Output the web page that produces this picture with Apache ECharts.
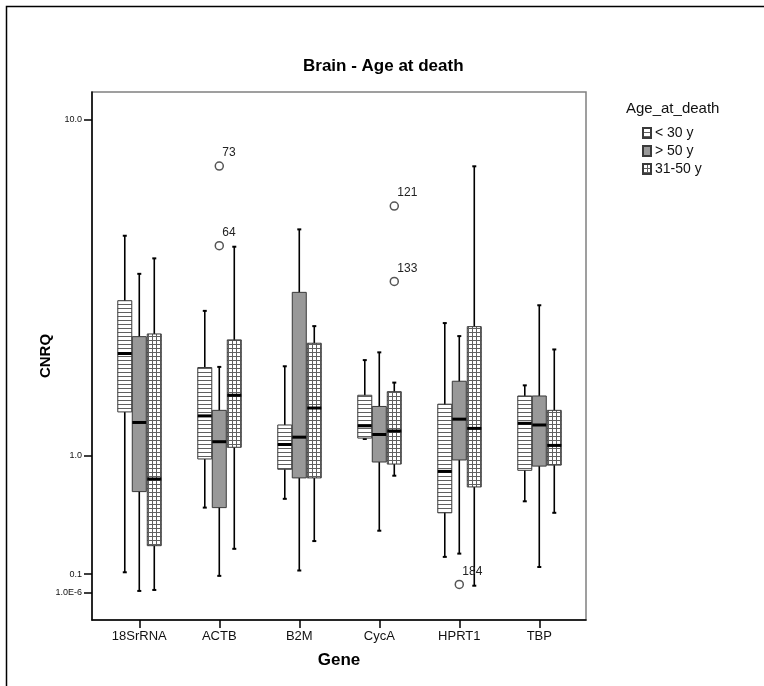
<!DOCTYPE html>
<html>
<head>
<meta charset="utf-8">
<title>Brain - Age at death</title>
<script src="https://cdn.jsdelivr.net/npm/echarts@6/dist/echarts.min.js"></script>
<style>
  html, body { margin: 0; padding: 0; background: #fff; }
  #chart { width: 764px; height: 686px; }
</style>
</head>
<body>
<div id="chart"></div>
<script>
// Genes on the category axis and the three age groups
const genes = ['18SrRNA', 'ACTB', 'B2M', 'CycA', 'HPRT1', 'TBP'];
const groups = ['< 30 y', '> 50 y', '31-50 y'];

// Box statistics per gene: [lower whisker, Q1, median, Q3, upper whisker]
const under30 = [
  [0.11, 1.50, 2.36, 3.39, 5.10],
  [0.54, 0.97, 1.45, 2.13, 3.17],
  [0.61, 0.87, 1.12, 1.34, 2.15],
  [1.18, 1.19, 1.33, 1.72, 2.25],
  [0.20, 0.50, 0.85, 1.60, 2.92],
  [0.59, 0.86, 1.36, 1.71, 1.86]
];
const over50 = [
  [0.01, 0.67, 1.37, 2.66, 4.03],
  [0.09, 0.54, 1.15, 1.52, 2.14],
  [0.12, 0.79, 1.20, 3.58, 5.30],
  [0.37, 0.94, 1.23, 1.57, 2.38],
  [0.22, 0.96, 1.41, 1.92, 2.67],
  [0.14, 0.90, 1.34, 1.71, 3.29]
];
const from31to50 = [
  [0.015, 0.27, 0.78, 2.71, 4.44],
  [0.25, 1.09, 1.72, 2.60, 4.77],
  [0.30, 0.79, 1.55, 2.54, 2.86],
  [0.81, 0.92, 1.27, 1.77, 1.90],
  [0.037, 0.71, 1.30, 2.85, 7.67],
  [0.50, 0.91, 1.11, 1.52, 2.43]
];

// Outlying cases
const outlierGene  = [1, 1, 3, 3, 4];
const outlierGroup = [1, 1, 2, 2, 1];
const outlierValue = [7.68, 4.80, 6.09, 3.84, 0.044];
const outlierCase  = ['73', '64', '121', '133', '184'];

// Y axis ticks
const yTickValues = [10, 1, 0.1, 0.000001];
const yTickLabels = ['10.0', '1.0', '0.1', '1.0E-6'];

// ---- drawing ----
const FONT = '"Liberation Sans", Arial, Helvetica, sans-serif';
const tf = v => Math.log10(1 + v);          // log(1 + x) scale
const groupOffsetPx = [-14.5, 0, 15];
const BOX_W = 14;

function makePattern(kind) {
  const c = document.createElement('canvas');
  const ctx = c.getContext('2d');
  c.width = 4; c.height = 4;
  ctx.fillStyle = '#ffffff'; ctx.fillRect(0, 0, 4, 4);
  ctx.fillStyle = '#606060';
  ctx.fillRect(0, 0, 4, 1);
  if (kind === 'grid') ctx.fillRect(0, 0, 1, 4);
  return { image: c, repeat: 'repeat' };
}
const fills = [makePattern('stripes'), '#999999', makePattern('grid')];

function boxData(stats) {
  return stats.map((s, i) => [i, tf(s[0]), tf(s[1]), tf(s[2]), tf(s[3]), tf(s[4])]);
}

function boxRenderer(g) {
  return function (params, api) {
    const ci = api.value(0);
    const x = api.coord([ci, 0])[0] + groupOffsetPx[g];
    const y = k => api.coord([ci, api.value(k)])[1];
    const yLo = y(1), yQ1 = y(2), yMed = y(3), yQ3 = y(4), yHi = y(5);
    const half = BOX_W / 2;
    return {
      type: 'group',
      children: [
        { type: 'line', shape: { x1: x, y1: yLo, x2: x, y2: yHi },
          style: { stroke: '#000', lineWidth: 1.6 } },
        { type: 'line', shape: { x1: x - 2, y1: yLo, x2: x + 2, y2: yLo },
          style: { stroke: '#000', lineWidth: 2 } },
        { type: 'line', shape: { x1: x - 2, y1: yHi, x2: x + 2, y2: yHi },
          style: { stroke: '#000', lineWidth: 2 } },
        { type: 'rect', shape: { x: x - half, y: yQ3, width: BOX_W, height: yQ1 - yQ3 },
          style: { fill: fills[g], stroke: '#3a3a3a', lineWidth: 1 } },
        { type: 'line', shape: { x1: x - half, y1: yMed, x2: x + half, y2: yMed },
          style: { stroke: '#000', lineWidth: 3 } }
      ]
    };
  };
}

const series = [under30, over50, from31to50].map((stats, g) => ({
  name: groups[g],
  type: 'custom',
  data: boxData(stats),
  encode: { x: 0, y: [1, 2, 3, 4, 5] },
  itemStyle: { color: fills[g], borderColor: '#3a3a3a', borderWidth: 1 },
  renderItem: boxRenderer(g),
  silent: true
}));

series.push({
  name: 'outliers',
  type: 'custom',
  data: outlierValue.map((v, i) => [outlierGene[i], tf(v), outlierGroup[i]]),
  encode: { x: 0, y: 1 },
  silent: true,
  renderItem: function (params, api) {
    const p = api.coord([api.value(0), api.value(1)]);
    const cx = p[0] + groupOffsetPx[api.value(2)];
    return {
      type: 'group',
      children: [
        { type: 'circle', shape: { cx: cx, cy: p[1], r: 4 },
          style: { fill: 'none', stroke: '#555', lineWidth: 1.5 } },
        { type: 'text', x: cx + 3, y: p[1] - 13,
          style: { text: outlierCase[params.dataIndex], fill: '#222',
                   font: '12px ' + FONT, textVerticalAlign: 'middle' } }
      ]
    };
  }
});

const chart = echarts.init(document.getElementById('chart'), null, { renderer: 'canvas' });
chart.setOption({
  animation: false,
  backgroundColor: '#ffffff',
  title: [
    { text: 'Brain - Age at death', left: 298, top: 53,
      textStyle: { fontFamily: FONT, fontSize: 17, fontWeight: 'bold', color: '#000' } },
    { text: 'Age_at_death', left: 626, top: 101, padding: 0,
      textStyle: { fontFamily: FONT, fontSize: 15, fontWeight: 'normal', color: '#111' } }
  ],
  legend: {
    data: groups,
    orient: 'vertical',
    left: 642, top: 126,
    padding: 0,
    itemWidth: 8, itemHeight: 10, itemGap: 4,
    icon: 'rect',
    textStyle: { fontFamily: FONT, fontSize: 14, color: '#111', padding: [0, 0, 0, -1] },
    selectedMode: false
  },
  graphic: [
    { type: 'rect', shape: { x: 6.5, y: 6.5, width: 900, height: 900 },
      style: { fill: 'none', stroke: '#000', lineWidth: 1.5 }, silent: true, z: -1 }
  ],
  grid: {
    left: 92, top: 92, right: 178, bottom: 66,
    show: true, borderColor: '#808080', borderWidth: 1.5, backgroundColor: 'transparent'
  },
  xAxis: {
    type: 'value',
    min: -0.591, max: 5.584,
    name: 'Gene',
    nameLocation: 'middle',
    nameGap: 32,
    nameMoveOverlap: false,
    nameTextStyle: { fontFamily: FONT, fontSize: 17, fontWeight: 'bold', color: '#000', verticalAlign: 'top' },
    axisLine: { show: true, onZero: false, lineStyle: { color: '#000', width: 1.5 } },
    axisTick: { show: true, length: 8, inside: false, customValues: [0, 1, 2, 3, 4, 5],
                lineStyle: { color: '#000', width: 1.5 } },
    axisLabel: { show: true, margin: 10, customValues: [0, 1, 2, 3, 4, 5],
                 formatter: (v) => genes[Math.round(v)],
                 fontFamily: FONT, fontSize: 13, color: '#111' },
    splitLine: { show: false }
  },
  yAxis: {
    type: 'value',
    min: -0.0596, max: 1.1014,
    name: 'CNRQ',
    nameLocation: 'middle',
    nameGap: 39,
    nameMoveOverlap: false,
    nameRotate: 90,
    nameTextStyle: { fontFamily: FONT, fontSize: 15, fontWeight: 'bold', color: '#000' },
    axisLine: { show: true, onZero: false, lineStyle: { color: '#000', width: 1.5 } },
    axisTick: { show: true, length: 8, inside: false, customValues: yTickValues.map(tf),
                lineStyle: { color: '#000', width: 1.5 } },
    axisLabel: { show: true, margin: 10, customValues: yTickValues.map(tf),
                 formatter: (v) => {
                   let best = 0, d = Infinity;
                   yTickValues.forEach((t, k) => { const dd = Math.abs(tf(t) - v); if (dd < d) { d = dd; best = k; } });
                   return yTickLabels[best];
                 },
                 fontFamily: FONT, fontSize: 9, color: '#111' },
    splitLine: { show: false }
  },
  series: series
});
</script>
</body>
</html>
